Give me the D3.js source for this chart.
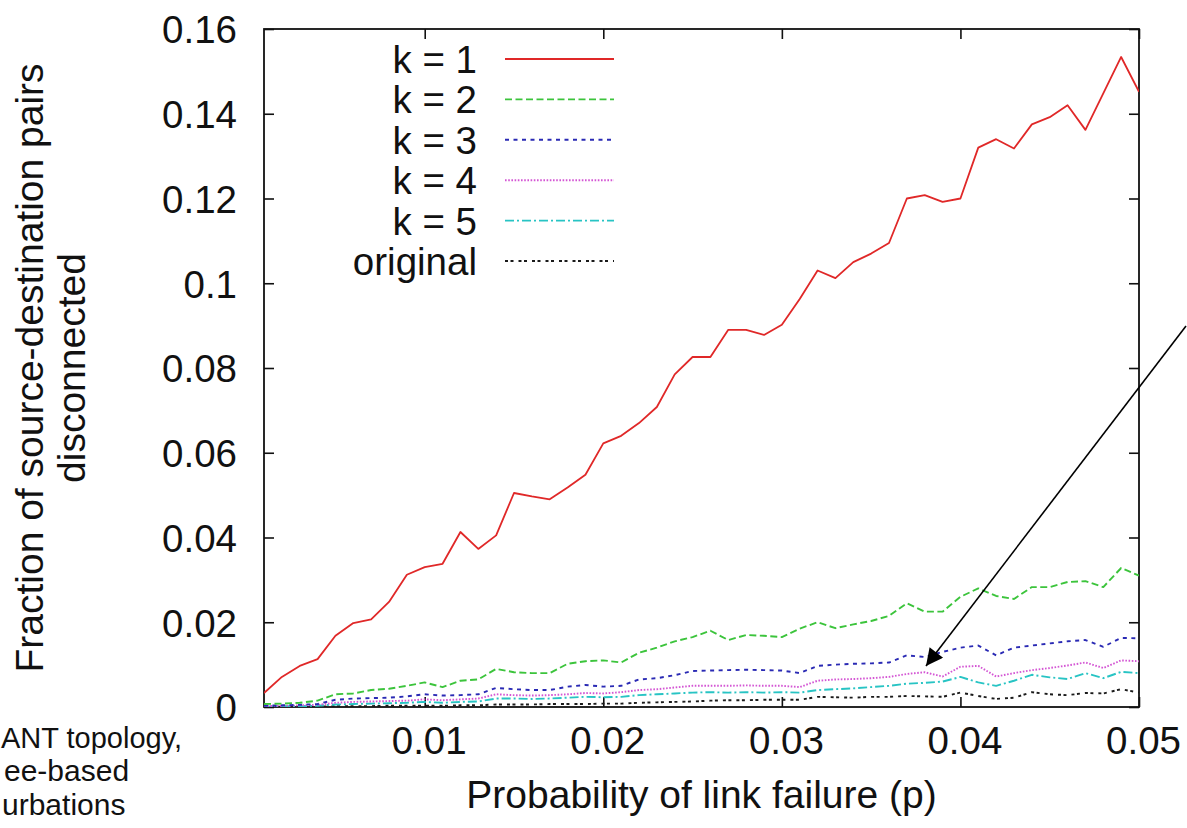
<!DOCTYPE html>
<html>
<head>
<meta charset="utf-8">
<script src="https://cdn.jsdelivr.net/npm/d3@7/dist/d3.min.js"></script>
<style>
  html, body { margin: 0; padding: 0; background: #fff; }
  svg { display: block; }
  text { font-family: "Liberation Sans", Arial, Helvetica, sans-serif; fill: #111; }
</style>
</head>
<body>
<svg id="chart" width="1187" height="828"></svg>
<script>
// ---- data ----
const pValues = d3.range(1, 51).map(i => i / 1000);   // p = 0.001 ... 0.050
const k1 = [0.0033,0.0071,0.0097,0.0113,0.0168,0.0198,0.0207,0.0248,0.0312,0.0330,
            0.0338,0.0413,0.0373,0.0405,0.0505,0.0497,0.0490,0.0518,0.0548,0.0622,
            0.0640,0.0670,0.0708,0.0785,0.0826,0.0826,0.0890,0.0890,0.0878,0.0902,
            0.0963,0.1030,0.1012,0.1050,0.1070,0.1095,0.1200,0.1208,0.1192,0.1200,
            0.1320,0.1340,0.1318,0.1375,0.1392,0.1420,0.1362,0.1448,0.1534,0.1452];
const k2 = [0.0007,0.0008,0.0010,0.0015,0.0030,0.0032,0.0040,0.0043,0.0050,0.0058,
            0.0047,0.0062,0.0065,0.0090,0.0082,0.0080,0.0080,0.0102,0.0108,0.0110,
            0.0105,0.0128,0.0140,0.0155,0.0165,0.0180,0.0158,0.0170,0.0168,0.0165,
            0.0185,0.0200,0.0186,0.0195,0.0203,0.0215,0.0245,0.0225,0.0225,0.0260,
            0.0280,0.0262,0.0255,0.0283,0.0283,0.0295,0.0297,0.0283,0.0328,0.0310];
const k3 = [0.0003,0.0004,0.0005,0.0007,0.0017,0.0020,0.0021,0.0022,0.0025,0.0030,
            0.0027,0.0028,0.0030,0.0045,0.0042,0.0040,0.0040,0.0048,0.0052,0.0048,
            0.0050,0.0065,0.0068,0.0075,0.0085,0.0086,0.0087,0.0088,0.0087,0.0086,
            0.0080,0.0097,0.0100,0.0102,0.0103,0.0105,0.0122,0.0118,0.0130,0.0140,
            0.0145,0.0122,0.0140,0.0145,0.0150,0.0155,0.0158,0.0142,0.0163,0.0162];
const k4 = [0.0002,0.0003,0.0004,0.0005,0.0010,0.0012,0.0013,0.0014,0.0015,0.0018,
            0.0016,0.0018,0.0020,0.0030,0.0028,0.0027,0.0028,0.0030,0.0033,0.0032,
            0.0035,0.0040,0.0042,0.0046,0.0050,0.0050,0.0050,0.0051,0.0050,0.0050,
            0.0047,0.0062,0.0065,0.0066,0.0068,0.0071,0.0078,0.0082,0.0072,0.0095,
            0.0097,0.0072,0.0080,0.0087,0.0092,0.0098,0.0105,0.0092,0.0110,0.0108];
const k5 = [0.0001,0.0002,0.0002,0.0003,0.0006,0.0007,0.0008,0.0009,0.0010,0.0012,
            0.0010,0.0012,0.0013,0.0020,0.0020,0.0019,0.0020,0.0022,0.0024,0.0023,
            0.0024,0.0028,0.0030,0.0032,0.0034,0.0035,0.0034,0.0035,0.0034,0.0035,
            0.0034,0.0040,0.0042,0.0044,0.0047,0.0050,0.0055,0.0057,0.0060,0.0071,
            0.0058,0.0050,0.0062,0.0076,0.0070,0.0066,0.0080,0.0068,0.0083,0.0080];
const original = [0.0000,0.0001,0.0001,0.0001,0.0002,0.0002,0.0002,0.0003,0.0003,0.0003,
            0.0003,0.0004,0.0004,0.0006,0.0006,0.0006,0.0007,0.0007,0.0007,0.0008,
            0.0008,0.0010,0.0011,0.0012,0.0013,0.0015,0.0016,0.0016,0.0017,0.0017,
            0.0017,0.0024,0.0023,0.0022,0.0024,0.0024,0.0026,0.0025,0.0024,0.0034,
            0.0026,0.0019,0.0022,0.0035,0.0030,0.0028,0.0033,0.0032,0.0042,0.0034];

const seriesNames = ["k = 1", "k = 2", "k = 3", "k = 4", "k = 5", "original"];
const seriesValues = [k1, k2, k3, k4, k5, original];
const seriesColors = ["#e02828", "#3cc43c", "#2a2ab4", "#d456d4", "#28c4c4", "#1a1a1a"];
const seriesDash = ["none", "7,3.5", "4,4.5", "1.6,1.6", "9,3,2,3", "3,2.5,3,5"];

const xTicks = [0.01, 0.02, 0.03, 0.04, 0.05];
const yTicks = [0, 0.02, 0.04, 0.06, 0.08, 0.10, 0.12, 0.14, 0.16];
const xTitle = "Probability of link failure (p)";
const yTitleLines = ["Fraction of source-destination pairs", "disconnected"];
// visible part of a caption that is cut off at the left edge in the source image
const sideText = ["ANT topology,", "ee-based", "urbations"];

// ---- layout ----
const svg = d3.select("#chart");
const L = 264, R = 1139, T = 29, B = 707;
const x = d3.scaleLinear().domain([0.001, 0.05]).range([L, R]);
const y = d3.scaleLinear().domain([0, 0.16]).range([B, T]);
const fmtY = d => d === 0 ? "0" : String(+d.toFixed(2));

// clip for plot area
const defs = svg.append("defs");
defs.append("clipPath").attr("id", "plotclip")
  .append("rect").attr("x", L).attr("y", T).attr("width", R - L).attr("height", B - T);

// arrowhead marker
defs.append("marker")
  .attr("id", "arrowhead").attr("viewBox", "0 0 10 10")
  .attr("refX", 10).attr("refY", 5)
  .attr("markerWidth", 24).attr("markerHeight", 17)
  .attr("markerUnits", "userSpaceOnUse")
  .attr("orient", "auto")
  .append("path").attr("d", "M0,0 L10,5 L0,10 Z").attr("fill", "#000");

// axes
const fontTick = 38.5;
const axL = svg.append("g").attr("transform", `translate(${L},0)`)
  .call(d3.axisLeft(y).tickValues(yTicks).tickSize(-10).tickPadding(26).tickFormat(fmtY));
const axR = svg.append("g").attr("transform", `translate(${R},0)`)
  .call(d3.axisRight(y).tickValues(yTicks).tickSize(-10).tickFormat(""));
const axB = svg.append("g").attr("transform", `translate(0,${B})`)
  .call(d3.axisBottom(x).tickValues(xTicks).tickSize(-10).tickPadding(26).tickFormat(d3.format(".2f")));
const axT = svg.append("g").attr("transform", `translate(0,${T})`)
  .call(d3.axisTop(x).tickValues(xTicks).tickSize(-10).tickFormat(""));
[axL, axR, axB, axT].forEach(g => {
  g.select(".domain").remove();
  g.selectAll(".tick line").attr("stroke", "#111").attr("stroke-width", 1.6);
  g.selectAll("text").style("font-size", fontTick + "px").attr("fill", "#111");
});
axL.selectAll(".tick text").attr("x", -27).attr("dy", "0.36em");
axB.selectAll(".tick text").attr("y", 0).attr("dy", 0).attr("transform", "translate(4,47)");

// frame
svg.append("rect").attr("x", L).attr("y", T).attr("width", R - L).attr("height", B - T)
  .attr("fill", "none").attr("stroke", "#111").attr("stroke-width", 1.8);

// series
const line = d3.line().x((d, i) => x(pValues[i])).y(d => y(d));
const plot = svg.append("g").attr("clip-path", "url(#plotclip)");
seriesValues.slice().reverse().forEach((vals, ri) => {
  const i = seriesValues.length - 1 - ri;
  plot.append("path").datum(vals)
    .attr("d", line)
    .attr("fill", "none")
    .attr("stroke", seriesColors[i])
    .attr("stroke-width", i === 0 ? 1.8 : 1.9)
    .attr("stroke-dasharray", seriesDash[i])
    .attr("stroke-linejoin", "round");
});

// legend
const legY0 = 59, legDY = 40.4;
const leg = svg.append("g");
seriesNames.forEach((name, i) => {
  const yy = legY0 + i * legDY;
  leg.append("text").attr("x", 477).attr("y", yy + 14)
    .attr("text-anchor", "end").style("font-size", fontTick + "px").text(name);
  leg.append("line").attr("x1", 505).attr("x2", 614).attr("y1", yy).attr("y2", yy)
    .attr("stroke", seriesColors[i]).attr("stroke-width", 1.9)
    .attr("stroke-dasharray", seriesDash[i]);
});

// axis titles
svg.append("text").attr("x", (L + R) / 2).attr("y", 808)
  .attr("text-anchor", "middle").style("font-size", "39px").text(xTitle);
const yt = svg.append("text").attr("transform", `translate(0,${(T + B) / 2}) rotate(-90)`)
  .attr("text-anchor", "middle").style("font-size", "39px");
yt.append("tspan").attr("x", 0).attr("y", 43).text(yTitleLines[0]);
yt.append("tspan").attr("x", 0).attr("y", 85).text(yTitleLines[1]);

// annotation arrow
svg.append("line").attr("x1", 1186).attr("y1", 326).attr("x2", 926).attr("y2", 666)
  .attr("stroke", "#000").attr("stroke-width", 1.6).attr("marker-end", "url(#arrowhead)");

// side text
const sideX = [1, 4, 2];
const sideY = [748, 781, 815];
const sideSize = [29, 30, 30];
sideText.forEach((t, i) => {
  svg.append("text").attr("x", sideX[i]).attr("y", sideY[i])
    .style("font-size", sideSize[i] + "px").text(t);
});
</script>
</body>
</html>
